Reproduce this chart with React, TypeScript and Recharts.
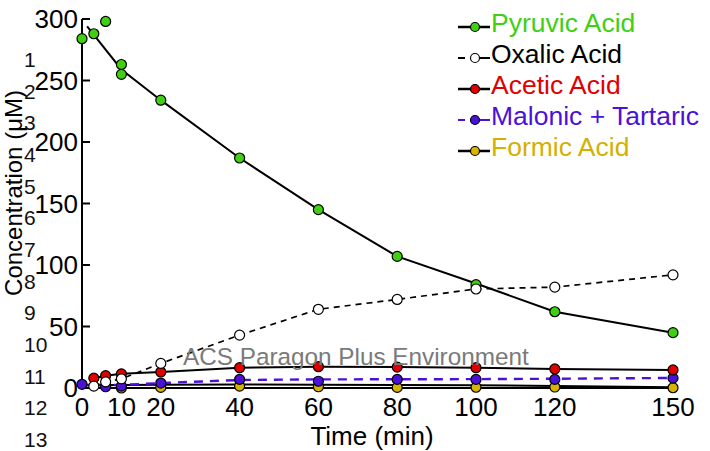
import React from 'react';
import { LineChart, Line, XAxis, YAxis, Label } from 'recharts';

// Sampling times (min) and measured concentrations (µM)
const pyruvicTimes = [0, 3, 6, 10, 10, 20, 40, 60, 80, 100, 120, 150];
const pyruvicValues = [284, 288, 298, 263, 255, 234, 187, 145, 107, 84, 62, 45];
// fitted decay curve for pyruvic acid
const pyruvicFitTimes = [1.3, 10, 20, 40, 60, 80, 100, 120, 150];
const pyruvicFitValues = [294, 259, 234, 187, 145, 107, 85, 62, 45];

const oxalicTimes = [3, 6, 10, 20, 40, 60, 80, 100, 120, 150];
const oxalicValues = [1.5, 5, 7.5, 20, 43, 64, 72, 80.5, 82, 92];

const aceticTimes = [3, 6, 10, 20, 40, 60, 80, 100, 120, 150];
const aceticValues = [8, 10, 11.5, 13, 16.5, 17.3, 17, 16.5, 15.5, 14.7];

const malonicTimes = [0, 6, 10, 20, 40, 60, 80, 100, 120, 150];
const malonicValues = [3, 1, 1.5, 4, 7, 5.5, 7, 7, 7, 8];
const malonicFitTimes = [0, 10, 20, 40, 60, 80, 100, 120, 150];
const malonicFitValues = [2.5, 2.5, 4, 6.5, 7, 7.1, 7.2, 7.5, 8.2];

const formicTimes = [10, 20, 40, 60, 80, 100, 120, 150];
const formicValues = [0, 0.5, 1.5, 1, 0.5, 0.6, 0.8, 0.2];
const formicFitTimes = [0, 20, 40, 60, 80, 100, 120, 150];
const formicFitValues = [2.2, 2.6, 2.8, 2.7, 2.5, 2.2, 1.6, 0.6];

const xTicks = [0, 10, 20, 40, 60, 80, 100, 120, 150];
const yTicks = [0, 50, 100, 150, 200, 250, 300];

const seriesNames = ['Pyruvic Acid', 'Oxalic Acid', 'Acetic Acid', 'Malonic + Tartaric', 'Formic Acid'];
const markerColors = ['#3fd014', '#ffffff', '#e00000', '#4a12d8', '#d8b400'];
const textColors = ['#3fd014', '#000000', '#e00000', '#4a12d8', '#d4b000'];
const lineColors = ['#000000', '#000000', '#000000', '#4a12d8', '#000000'];
const lineDashed = [false, true, false, true, false];

const lineNumbers = ['1', '2', '3', '4', '5', '6', '7', '8', '9', '10', '11', '12', '13'];

const FONT = '"Liberation Sans", Arial, Helvetica, sans-serif';

const toRows = (ts: number[], vs: number[]) => ts.map((t, i) => ({ t, v: vs[i] }));

const makeDot = (fill: string) => (props: any) => {
  const { cx, cy, index } = props;
  if (cx == null || cy == null) return <g key={`e-${index}`} />;
  return (
    <circle
      key={`d-${index}-${cx}-${cy}`}
      cx={cx}
      cy={cy}
      r={5}
      fill={fill}
      stroke="#000"
      strokeWidth={1.2}
    />
  );
};

const YTitle = () => (
  <text
    x={22}
    y={193}
    transform="rotate(-90, 22, 193)"
    textAnchor="middle"
    fontFamily={FONT}
    fontSize={24}
    fill="#000"
  >
    Concentration (μM)
  </text>
);

const XTitle = () => (
  <text x={372} y={445} textAnchor="middle" fontFamily={FONT} fontSize={26} fill="#000">
    Time (min)
  </text>
);

export default function App() {
  const legendTop = 32;
  const legendStep = 31;
  return (
    <div style={{ position: 'absolute', left: 0, top: 0, width: 710, height: 451, background: '#fff' }}>
      <LineChart
        width={710}
        height={451}
        margin={{ top: 19, right: 37, bottom: 0, left: 0 }}
        style={{ fontFamily: FONT }}
      >
        <XAxis
          type="number"
          dataKey="t"
          domain={[0, 150]}
          ticks={xTicks}
          interval={0}
          height={63}
          axisLine={{ stroke: '#000', strokeWidth: 2 }}
          tickLine={false}
          tickSize={6}
          tickMargin={4}
          tick={{ fill: '#000', fontSize: 26, fontFamily: FONT }}
          allowDuplicatedCategory={false}
        >
          <Label content={XTitle} />
        </XAxis>
        <YAxis
          type="number"
          dataKey="v"
          domain={[0, 300]}
          ticks={yTicks}
          interval={0}
          width={82}
          axisLine={{ stroke: '#000', strokeWidth: 2 }}
          tickLine={{ stroke: '#000', strokeWidth: 2 }}
          tickSize={-8}
          tickMargin={12}
          tick={{ fill: '#000', fontSize: 26, fontFamily: FONT }}
        >
          <Label content={YTitle} />
        </YAxis>

        {/* formic acid */}
        <Line
          data={toRows(formicFitTimes, formicFitValues)}
          dataKey="v"
          stroke="#000"
          strokeWidth={2}
          dot={false}
          legendType="none"
          isAnimationActive={false}
        />
        <Line
          data={toRows(formicTimes, formicValues)}
          dataKey="v"
          stroke="none"
          dot={makeDot(markerColors[4])}
          isAnimationActive={false}
        />

        {/* malonic + tartaric */}
        <Line
          data={toRows(malonicFitTimes, malonicFitValues)}
          dataKey="v"
          stroke={lineColors[3]}
          strokeWidth={2.4}
          strokeDasharray="9 7"
          dot={false}
          legendType="none"
          isAnimationActive={false}
        />
        <Line
          data={toRows(malonicTimes, malonicValues)}
          dataKey="v"
          stroke="none"
          dot={makeDot(markerColors[3])}
          isAnimationActive={false}
        />

        {/* acetic acid */}
        <Line
          data={toRows(aceticTimes, aceticValues)}
          dataKey="v"
          stroke="#000"
          strokeWidth={2}
          dot={makeDot(markerColors[2])}
          isAnimationActive={false}
        />

        {/* pyruvic acid */}
        <Line
          data={toRows(pyruvicFitTimes, pyruvicFitValues)}
          dataKey="v"
          stroke="#000"
          strokeWidth={2}
          dot={false}
          legendType="none"
          isAnimationActive={false}
        />
        <Line
          data={toRows(pyruvicTimes, pyruvicValues)}
          dataKey="v"
          stroke="none"
          dot={makeDot(markerColors[0])}
          isAnimationActive={false}
        />

        {/* oxalic acid */}
        <Line
          data={toRows(oxalicTimes, oxalicValues)}
          dataKey="v"
          stroke="#000"
          strokeWidth={1.7}
          strokeDasharray="6 5"
          dot={makeDot(markerColors[1])}
          isAnimationActive={false}
        />
      </LineChart>

      <svg
        width={710}
        height={451}
        style={{ position: 'absolute', left: 0, top: 0, pointerEvents: 'none' }}
      >
        {/* manuscript line numbers */}
        {lineNumbers.map((n, i) => (
          <text
            key={n}
            x={24}
            y={67 + i * 31.67}
            fontFamily={FONT}
            fontSize={21}
            fill="#111"
          >
            {n}
          </text>
        ))}

        {/* watermark */}
        <text x={183} y={365} fontFamily={FONT} fontSize={24.3} fill="#7a7a7a">
          ACS Paragon Plus Environment
        </text>

        {/* legend */}
        {seriesNames.map((name, i) => {
          const by = legendTop + i * legendStep;
          const sy = by - 5;
          return (
            <g key={name}>
              {lineDashed[i] ? (
                <>
                  <line x1={458} y1={sy} x2={465} y2={sy} stroke={lineColors[i]} strokeWidth={2} />
                  <line x1={480} y1={sy} x2={490} y2={sy} stroke={lineColors[i]} strokeWidth={2} />
                </>
              ) : (
                <line x1={458} y1={sy} x2={490} y2={sy} stroke={lineColors[i]} strokeWidth={2.5} />
              )}
              <circle cx={475} cy={sy} r={4.5} fill={markerColors[i]} stroke="#000" strokeWidth={1.2} />
              <text x={491} y={by} fontFamily={FONT} fontSize={26.5} fill={textColors[i]}>
                {name}
              </text>
            </g>
          );
        })}
      </svg>
    </div>
  );
}
